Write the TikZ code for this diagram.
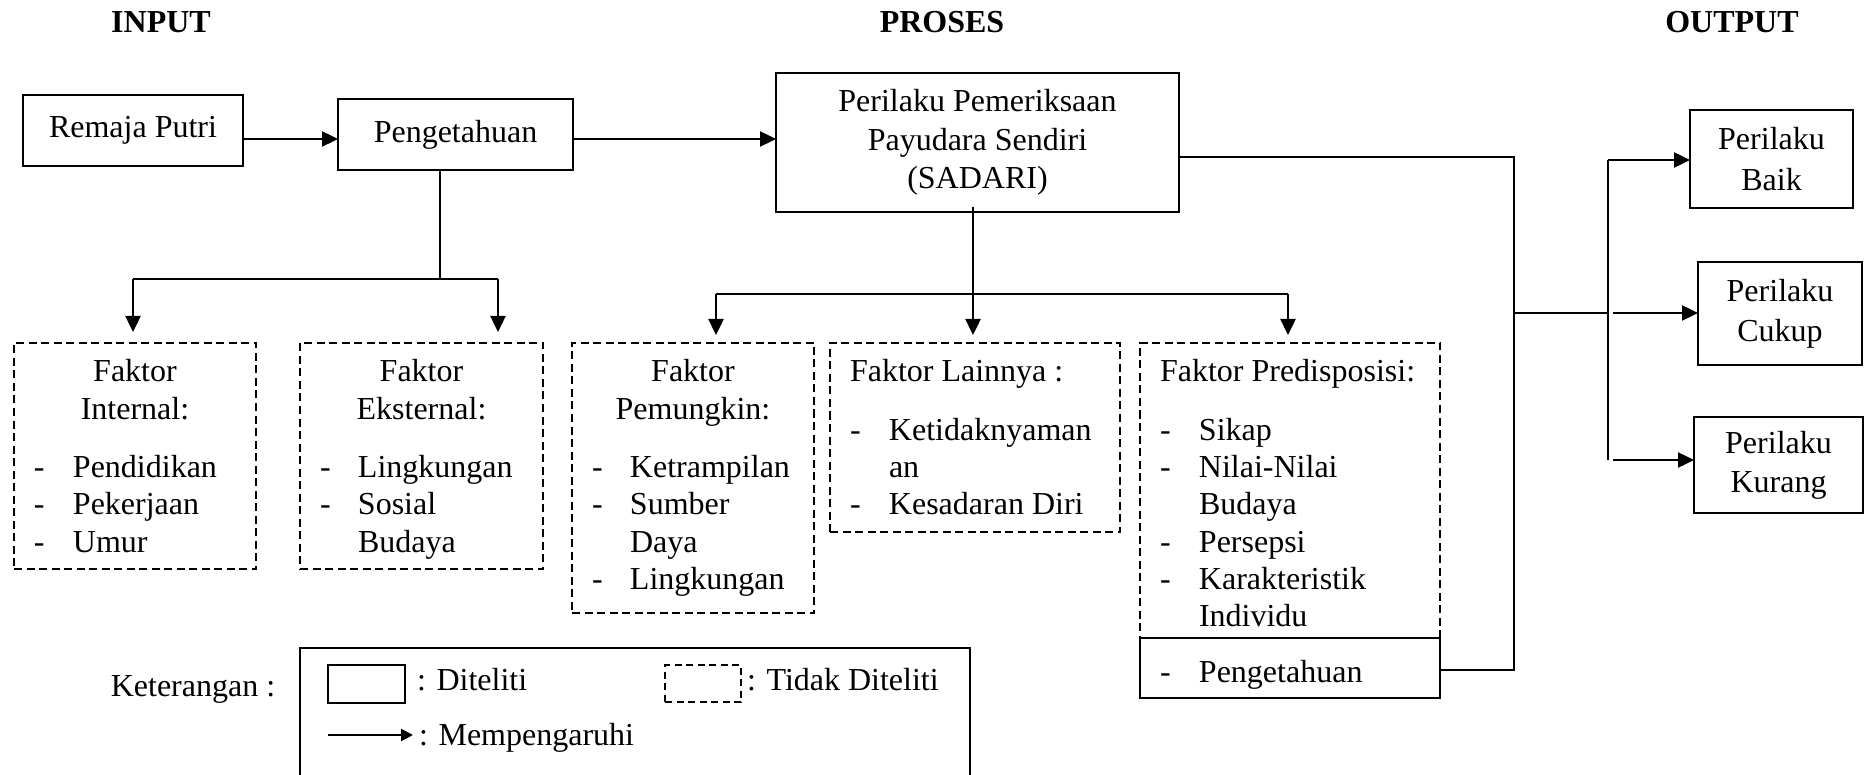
\documentclass[tikz,border=0pt]{standalone}
\usepackage{fontspec}
\setmainfont{Liberation Serif}
\usetikzlibrary{arrows.meta,calc}
\begin{document}
\begin{tikzpicture}[x=1pt,y=-1pt,
  every node/.style={font=\fontsize{32}{37.3}\selectfont, inner sep=0pt, outer sep=0pt},
  sbox/.style={draw, line width=2.7pt},
  dbox/.style={draw, line width=2.7pt, dash pattern=on 8pt off 4.5pt},
  arr/.style={line width=2.4pt, -{Triangle[length=16pt,width=15pt]}},
  thinln/.style={line width=1.4pt},
  title/.style={font=\fontsize{32}{37.3}\selectfont\bfseries, anchor=base}
]
\useasboundingbox (0,0) rectangle (1866,775);
\clip (0,0) rectangle (1866,775);

% titles
\node[title] (tin) at (161,33) {INPUT};
\node[title] (tpr) at (942,33) {PROSES};
\node[title] (tout) at (1732,33) {OUTPUT};

% solid boxes
\node[sbox, minimum width=220pt, minimum height=71pt] (remaja) at (133,130.5) {Remaja Putri};
\node[sbox, minimum width=235pt, minimum height=71pt] (peng) at (455.5,134.5) {Pengetahuan};
\node[sbox, minimum width=403pt, minimum height=139pt, align=center] (sadari) at (977.5,142.5)
  {Perilaku Pemeriksaan\\[1pt]Payudara Sendiri\\[1pt](SADARI)};
\node[sbox, minimum width=163pt, minimum height=98pt, align=center] (baik) at (1771.5,159) {Perilaku\\[3pt]Baik};
\node[sbox, minimum width=164pt, minimum height=103pt, align=center] (cukup) at (1780,313.5) {Perilaku\\[3pt]Cukup};
\node[sbox, minimum width=169pt, minimum height=96pt, align=center] (kurang) at (1778.5,465) {Perilaku\\[2pt]Kurang};

% dashed boxes
\node[dbox, minimum width=242pt, minimum height=226pt] (int) at (135,456) {};
\node[dbox, minimum width=243pt, minimum height=226pt] (eks) at (421.5,456) {};
\node[dbox, minimum width=242pt, minimum height=270pt] (pem) at (693,478) {};
\node[dbox, minimum width=290pt, minimum height=189pt] (lain) at (975,437.5) {};
\node[dbox, minimum width=300pt, minimum height=295pt] (pred) at (1290,490.5) {};
\node[sbox, minimum width=300pt, minimum height=60pt] (predk) at (1290,668) {};

% texts in dashed boxes
\node[anchor=base west] (tint) at (34,382) {\begin{tabular}[t]{@{}p{39pt}@{}l@{}}
\multicolumn{2}{@{}c@{}}{\makebox[202pt]{Faktor}}\\
\multicolumn{2}{@{}c@{}}{\makebox[202pt]{Internal:}}\\[21pt]
-&Pendidikan\\
-&Pekerjaan\\
-&Umur
\end{tabular}};
\node[anchor=base west] (teks) at (320,382) {\begin{tabular}[t]{@{}p{38pt}@{}l@{}}
\multicolumn{2}{@{}c@{}}{\makebox[203pt]{Faktor}}\\
\multicolumn{2}{@{}c@{}}{\makebox[203pt]{Eksternal:}}\\[21pt]
-&Lingkungan\\
-&Sosial\\
&Budaya
\end{tabular}};
\node[anchor=base west] (tpem) at (592,382) {\begin{tabular}[t]{@{}p{38pt}@{}l@{}}
\multicolumn{2}{@{}c@{}}{\makebox[202pt]{Faktor}}\\
\multicolumn{2}{@{}c@{}}{\makebox[202pt]{Pemungkin:}}\\[21pt]
-&Ketrampilan\\
-&Sumber\\
&Daya\\
-&Lingkungan
\end{tabular}};
\node[anchor=base west] (tlain) at (850,382) {\begin{tabular}[t]{@{}p{39pt}@{}l@{}}
\multicolumn{2}{@{}l@{}}{Faktor Lainnya :}\\[21pt]
-&Ketidaknyaman\\
&an\\
-&Kesadaran Diri
\end{tabular}};
\node[anchor=base west] (tpred) at (1160,382) {\begin{tabular}[t]{@{}p{39pt}@{}l@{}}
\multicolumn{2}{@{}l@{}}{Faktor Predisposisi:}\\[21pt]
-&Sikap\\
-&Nilai-Nilai\\
&Budaya\\
-&Persepsi\\
-&Karakteristik\\
&Individu
\end{tabular}};
\node[anchor=base west] (tpredk) at (1160,682) {\begin{tabular}[t]{@{}p{39pt}@{}l@{}}
-&Pengetahuan
\end{tabular}};

% connectors: top row
\coordinate (ya) at (0,139);
\draw[arr] (remaja.east |- ya) -- (peng.west |- ya);
\draw[arr] (peng.east |- ya) -- (sadari.west |- ya);

% from Pengetahuan
\coordinate (pj) at (440,279);
\coordinate (pl) at (133,279);
\coordinate (pr) at (498,279);
\draw[thinln] (peng.south -| pj) -- (pj);
\draw[thinln] (pl) -- (pr);
\draw[arr, shorten >=11pt] (pl) -- (int.north -| pl);
\draw[arr, shorten >=11pt] (pr) -- (eks.north -| pr);

% from SADARI
\coordinate (sj) at (973,294);
\coordinate (sl) at (716,294);
\coordinate (sr) at (1288,294);
\draw[thinln] ([yshift=5pt]sadari.south -| sj) -- (sj);
\draw[thinln] (sl) -- (sr);
\draw[arr, shorten >=8pt] (sl) -- (pem.north -| sl);
\draw[arr, shorten >=8pt] (sj) -- (lain.north -| sj);
\draw[arr, shorten >=8pt] (sr) -- (pred.north -| sr);

% to output
\coordinate (r1) at (1514,157);
\coordinate (r2) at (1514,670);
\coordinate (rm) at (1514,313);
\coordinate (v1) at (1608,160);
\coordinate (v2) at (1608,460);
\coordinate (vm) at (1608,313);
\draw[thinln] (sadari.east |- r1) -- (r1) -- (r2) -- (predk.east |- r2);
\draw[thinln] (rm) -- (vm);
\draw[thinln] (v1) -- (v2);
\draw[arr] (v1) -- (baik.west |- v1);
\draw[arr] ([xshift=5pt]vm) -- (cukup.west |- vm);
\draw[arr] ([xshift=5pt]v2) -- (kurang.west |- v2);

% legend
\node[anchor=base] (ket) at (193,696) {Keterangan :};
\node[sbox, minimum width=670pt, minimum height=152pt] (leg) at (635,724) {};
\node[sbox, minimum width=77pt, minimum height=38pt] (legs) at (366.5,684) {};
\node[anchor=base west] (legst) at (417,690) {: Diteliti};
\node[dbox, line width=2.4pt, dash pattern=on 7pt off 4.5pt, minimum width=76pt, minimum height=37pt] (legd) at (703,683.5) {};
\node[anchor=base west] (legdt) at (747,690) {: Tidak Diteliti};
\coordinate (la) at (328,735);
\coordinate (lb) at (413,735);
\draw[line width=2pt, -{Triangle[length=12pt,width=12pt]}] (la) -- (lb);
\node[anchor=base west] (legat) at (419,745) {: Mempengaruhi};
\end{tikzpicture}
\end{document}
